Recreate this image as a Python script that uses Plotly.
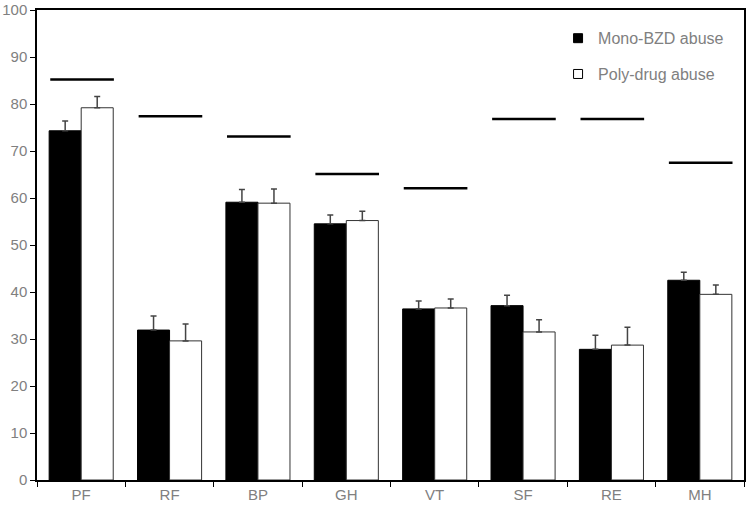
import plotly.graph_objects as go

categories = ["PF", "RF", "BP", "GH", "VT", "SF", "RE", "MH"]
mono_bzd = [74.3, 31.9, 59.1, 54.5, 36.4, 37.1, 27.8, 42.5]
mono_bzd_err = [2.1, 3.0, 2.7, 1.9, 1.7, 2.2, 3.0, 1.7]
poly_drug = [79.2, 29.6, 58.9, 55.2, 36.6, 31.5, 28.7, 39.5]
poly_drug_err = [2.4, 3.6, 3.0, 2.0, 1.9, 2.6, 3.8, 2.0]
norm_values = [85.2, 77.4, 73.1, 65.1, 62.1, 76.8, 76.8, 67.5]

fig = go.Figure()

fig.add_trace(go.Bar(
    x=categories, y=mono_bzd, name="Mono-BZD abuse", showlegend=False,
    marker=dict(color="black", line=dict(color="black", width=1)),
    error_y=dict(type="data", symmetric=False, array=mono_bzd_err,
                 arrayminus=[0] * len(mono_bzd), color="#444444",
                 thickness=1.5, width=3),
))
fig.add_trace(go.Bar(
    x=categories, y=poly_drug, name="Poly-drug abuse", showlegend=False,
    marker=dict(color="white", line=dict(color="#333333", width=1)),
    error_y=dict(type="data", symmetric=False, array=poly_drug_err,
                 arrayminus=[0] * len(poly_drug), color="#444444",
                 thickness=1.5, width=3),
))

# reference (norm) lines over each group, on a hidden numeric axis
line_x, line_y = [], []
for i, v in enumerate(norm_values):
    line_x += [i - 0.35, i + 0.37, None]
    line_y += [v, v, None]
fig.add_trace(go.Scatter(
    x=line_x, y=line_y, xaxis="x2", mode="lines",
    line=dict(color="black", width=2.5), showlegend=False, hoverinfo="skip",
))

# legend entries
fig.add_trace(go.Scatter(
    x=[None], y=[None], mode="markers", name="Mono-BZD abuse",
    marker=dict(symbol="square", size=9, color="black",
                line=dict(color="black", width=1)),
    legendgroup="a",
))
fig.add_trace(go.Scatter(
    x=[None], y=[None], mode="markers", name="Poly-drug abuse",
    marker=dict(symbol="square", size=9, color="white",
                line=dict(color="black", width=1)),
    legendgroup="b",
))

fig.update_layout(
    width=748, height=508,
    margin=dict(l=37, r=4, t=10, b=28),
    paper_bgcolor="white", plot_bgcolor="white",
    barmode="group", bargap=0.275, bargroupgap=0,
    font=dict(family="Liberation Sans, Arial, sans-serif", size=15, color="#808080"),
    legend=dict(x=0.737, y=0.976, xanchor="left", yanchor="top",
                bgcolor="rgba(0,0,0,0)", font=dict(size=16, color="#808080"),
                traceorder="grouped", tracegroupgap=12, itemwidth=30),
    xaxis=dict(type="category", range=[-0.5, 7.5], tickson="boundaries",
               ticks="outside", ticklen=5, tickcolor="black",
               tickfont=dict(size=15, color="#808080"), automargin=False,
               showline=True, linecolor="black", linewidth=1.5, mirror=True,
               showgrid=False, zeroline=False),
    xaxis2=dict(overlaying="x", range=[-0.5, 7.5], visible=False),
    yaxis=dict(range=[0, 100], dtick=10, ticks="outside", ticklen=5,
               tickcolor="black", tickfont=dict(size=15, color="#808080"),
               ticklabeloverflow="allow", automargin=False,
               showline=True, linecolor="black",
               linewidth=1.5, mirror=True, showgrid=False, zeroline=False),
)

# drop the default page margin so the figure sits at the window's corner
fig.write_html("out.html", config={"displayModeBar": False},
               post_script="document.body.style.margin='0';")
